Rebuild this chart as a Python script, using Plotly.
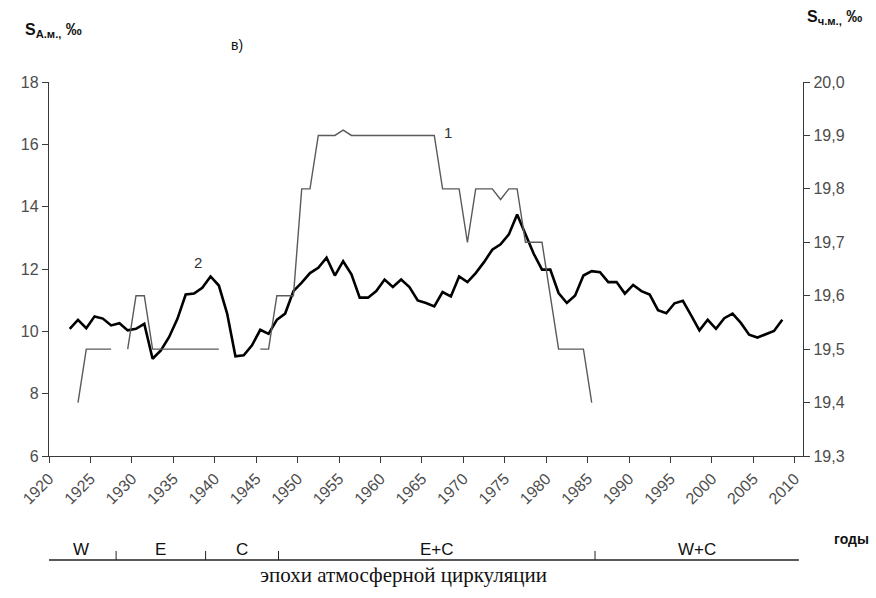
import plotly.graph_objects as go

# Series 2: Azov Sea salinity, ‰ (left axis), 1922-2008
azov_years = list(range(1922, 2009))
azov_sal = [
    10.08, 10.37, 10.10, 10.48, 10.41, 10.19, 10.26, 10.03, 10.08, 10.24,  # 1922-1931
    9.12, 9.39, 9.82, 10.40, 11.18, 11.21, 11.40, 11.76, 11.47, 10.57,     # 1932-1941
    9.20, 9.23, 9.55, 10.05, 9.92, 10.37, 10.57, 11.29, 11.56, 11.87,      # 1942-1951
    12.04, 12.36, 11.79, 12.25, 11.83, 11.08, 11.08, 11.29, 11.66, 11.42,  # 1952-1961
    11.66, 11.42, 10.99, 10.91, 10.80, 11.26, 11.12, 11.76, 11.58, 11.87,  # 1962-1971
    12.22, 12.62, 12.79, 13.11, 13.75, 13.13, 12.49, 11.98, 11.98, 11.23,  # 1972-1981
    10.91, 11.15, 11.79, 11.93, 11.90, 11.58, 11.58, 11.21, 11.49, 11.29,  # 1982-1991
    11.18, 10.68, 10.58, 10.90, 10.98, 10.51, 10.03, 10.37, 10.08, 10.42,  # 1992-2001
    10.57, 10.27, 9.89, 9.80, 9.90, 10.01, 10.37,                          # 2002-2008
]

# Series 1: Black Sea salinity, ‰ (right axis), 1923-1985, None = no data
black_years = list(range(1923, 1986))
black_sal = [
    19.4, 19.5, 19.5, 19.5, 19.5, None, 19.5, 19.6, 19.6, 19.5,            # 1923-1932
    19.5, 19.5, 19.5, 19.5, 19.5, 19.5, 19.5, 19.5, None, None,            # 1933-1942
    None, None, 19.5, 19.5, 19.6, 19.6, 19.6, 19.8, 19.8, 19.9,            # 1943-1952
    19.9, 19.9, 19.91, 19.9, 19.9, 19.9, 19.9, 19.9, 19.9, 19.9,           # 1953-1962
    19.9, 19.9, 19.9, 19.9, 19.8, 19.8, 19.8, 19.7, 19.8, 19.8,            # 1963-1972
    19.8, 19.78, 19.8, 19.8, 19.7, 19.7, 19.7, 19.6, 19.5, 19.5,           # 1973-1982
    19.5, 19.5, 19.4,                                                      # 1983-1985
]

# Tick labels on the year axis (every 5 years, at category boundaries)
tick_years = list(range(1920, 2011, 5))

# Atmospheric circulation epochs: labels and boundaries
epoch_labels = ["W", "E", "C", "E+C", "W+C"]
epoch_bounds = [1919.1, 1927.6, 1938.4, 1947.2, 1985.4, 2010.0]

FONT = "Liberation Sans, Arial, sans-serif"
AXIS_COLOR = "#3a3a3a"
TICK_FONT_COLOR = "#4d4d4d"
PLOT_H = 374.2  # plot-area height in px

fig = go.Figure()

fig.add_trace(go.Scatter(
    x=black_years, y=black_sal, yaxis="y2", mode="lines",
    line=dict(color="#5a5a5a", width=1.4), connectgaps=False,
    name="1", showlegend=False, hoverinfo="skip",
))
fig.add_trace(go.Scatter(
    x=azov_years, y=azov_sal, yaxis="y", mode="lines",
    line=dict(color="#000000", width=2.6),
    name="2", showlegend=False, hoverinfo="skip",
))

annotations = [
    # curve labels
    dict(x=1967.7, y=19.906, xref="x", yref="y2", text="1", showarrow=False,
         font=dict(family=FONT, size=15, color="#333333")),
    dict(x=1937.5, y=12.22, xref="x", yref="y", text="2", showarrow=False,
         font=dict(family=FONT, size=15, color="#333333")),
    # panel title
    dict(x=0.249, y=1.0, xref="paper", yref="paper", text="в)", showarrow=False,
         xanchor="center", yanchor="middle", yshift=37,
         font=dict(family=FONT, size=14, color="#111111")),
    # axis titles
    dict(x=0, y=1, xref="paper", yref="paper", text="<b>S<sub>А.м.,</sub> ‰</b>",
         showarrow=False, xanchor="left", yanchor="bottom",
         xshift=-26, yshift=40, font=dict(family=FONT, size=16, color="#111111")),
    dict(x=1, y=1, xref="paper", yref="paper", text="<b>S<sub>ч.м.,</sub> ‰</b>",
         showarrow=False, xanchor="left", yanchor="bottom",
         xshift=2, yshift=53, font=dict(family=FONT, size=16, color="#111111")),
    # year caption
    dict(x=1, y=0, xref="paper", yref="paper", text="<b>годы</b>",
         showarrow=False, xanchor="left", yanchor="middle",
         xshift=29, yshift=-83, font=dict(family=FONT, size=14, color="#111111")),
    # epochs caption
    dict(x=0.47, y=0, xref="paper", yref="paper", text="эпохи атмосферной циркуляции",
         showarrow=False, xanchor="center", yanchor="middle",
         yshift=-119, font=dict(family="Liberation Serif, Times New Roman, serif",
                                size=21, color="#111111")),
]

shapes = []
base_y = -104  # epoch baseline, px below the bottom axis
for i, lab in enumerate(epoch_labels):
    mid = (epoch_bounds[i] + epoch_bounds[i + 1]) / 2
    annotations.append(dict(
        x=mid, y=0, xref="x", yref="paper", text=lab, showarrow=False,
        yanchor="middle", yshift=-93,
        font=dict(family=FONT, size=17, color="#111111"),
    ))
shapes.append(dict(
    type="line", xref="x", yref="paper", x0=epoch_bounds[0], x1=epoch_bounds[-1],
    y0=base_y / PLOT_H, y1=base_y / PLOT_H, line=dict(color="#222222", width=1.5),
))
for b in epoch_bounds[:-1]:
    shapes.append(dict(
        type="line", xref="x", yref="paper", x0=b, x1=b,
        y0=base_y / PLOT_H, y1=(base_y + 9) / PLOT_H, line=dict(color="#222222", width=1),
    ))

fig.update_layout(
    width=876, height=598,
    margin=dict(l=49, r=73, t=81.5, b=142.3),
    paper_bgcolor="white", plot_bgcolor="white",
    separators=", ",
    font=dict(family=FONT, color=TICK_FONT_COLOR),
    xaxis=dict(
        range=[1919.5, 2010.5],
        tickvals=[y - 0.5 for y in tick_years],
        ticktext=[str(y) for y in tick_years],
        tickangle=-45,
        ticks="outside", ticklen=6, tickcolor=AXIS_COLOR,
        showline=True, linecolor=AXIS_COLOR, linewidth=1.4,
        showgrid=False, zeroline=False,
        tickfont=dict(family=FONT, size=16, color=TICK_FONT_COLOR),
    ),
    yaxis=dict(
        range=[6, 18], dtick=2, tick0=6,
        ticks="outside", ticklen=6, tickcolor=AXIS_COLOR,
        showline=True, linecolor=AXIS_COLOR, linewidth=1.4,
        showgrid=False, zeroline=False,
        tickfont=dict(family=FONT, size=16, color=TICK_FONT_COLOR),
    ),
    yaxis2=dict(
        range=[19.3, 20.0], dtick=0.1, tick0=19.3, tickformat=".1f",
        overlaying="y", side="right",
        ticks="outside", ticklen=6, tickcolor=AXIS_COLOR,
        showline=True, linecolor=AXIS_COLOR, linewidth=1.4,
        showgrid=False, zeroline=False,
        tickfont=dict(family=FONT, size=16, color=TICK_FONT_COLOR),
    ),
    annotations=annotations,
    shapes=shapes,
)

fig.write_html("out.html")
